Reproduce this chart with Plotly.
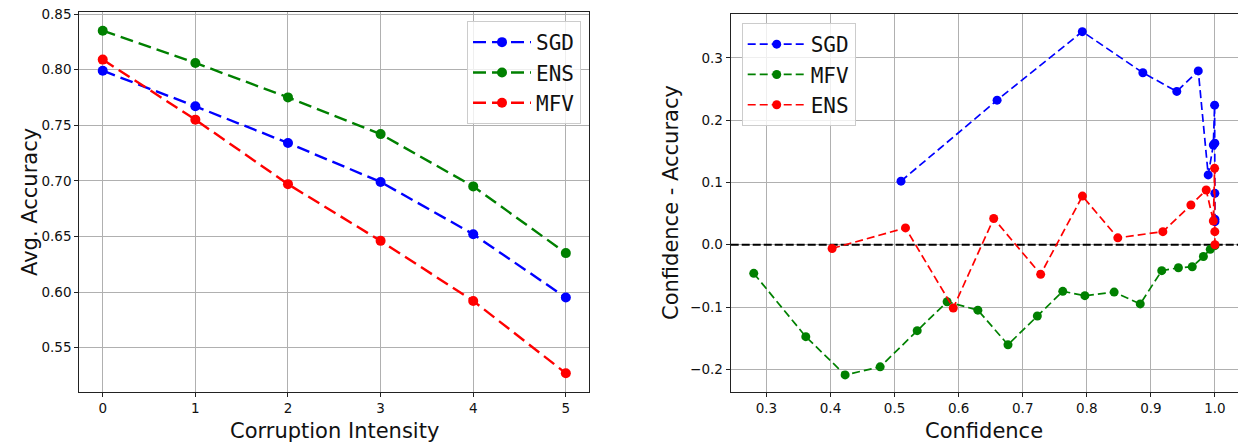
import plotly.graph_objects as go

# ---- left panel: accuracy vs corruption intensity ----
intensity = [0, 1, 2, 3, 4, 5]
acc_sgd = [0.799, 0.767, 0.734, 0.699, 0.652, 0.595]
acc_ens = [0.835, 0.806, 0.775, 0.742, 0.695, 0.635]
acc_mfv = [0.809, 0.755, 0.697, 0.646, 0.592, 0.527]

# ---- right panel: calibration gap vs confidence ----
conf_sgd = [0.510, 0.660, 0.793, 0.8875, 0.9405, 0.974, 0.9895, 0.9975, 0.9995, 0.9998, 0.9999, 0.99995, 1.0]
gap_sgd = [0.102, 0.232, 0.342, 0.276, 0.246, 0.279, 0.112, 0.160, 0.224, 0.163, 0.0825, 0.041, 0.037]

conf_mfv = [0.2802, 0.3614, 0.4228, 0.4775, 0.5353, 0.582, 0.630, 0.677, 0.7228, 0.7625,
            0.797, 0.8427, 0.8834, 0.917, 0.943, 0.9646, 0.982, 0.9927, 1.0]
gap_mfv = [-0.046, -0.1476, -0.209, -0.196, -0.138, -0.0915, -0.105, -0.1605, -0.1145, -0.0748,
           -0.0818, -0.076, -0.095, -0.0417, -0.037, -0.0353, -0.019, -0.0074, -0.0015]

conf_ens = [0.4025, 0.517, 0.5916, 0.6547, 0.728, 0.7932, 0.8484, 0.9187, 0.9625, 0.9864,
            0.9975, 0.9995, 0.9998, 1.0]
gap_ens = [-0.006, 0.027, -0.1016, 0.042, -0.0475, 0.078, 0.011, 0.021, 0.0637, 0.0878,
           0.038, 0.1226, 0.021, 0.0]

left_ticks_x = [0, 1, 2, 3, 4, 5]
left_ticks_y = [0.55, 0.60, 0.65, 0.70, 0.75, 0.80, 0.85]
right_ticks_x = [0.3, 0.4, 0.5, 0.6, 0.7, 0.8, 0.9, 1.0]
right_ticks_y = [-0.2, -0.1, 0.0, 0.1, 0.2, 0.3]

# axis limits
left_xlim = [-0.253, 5.25]
left_ylim = [0.5101, 0.8518]
right_xlim = [0.2442, 1.036]
right_ylim = [-0.2364, 0.3703]

W, H = 1238, 442
FONT = "DejaVu Sans"
MONO = "DejaVu Sans Mono"

fig = go.Figure()

# zero reference line across the right panel (drawn first so markers sit on top)
fig.add_trace(go.Scatter(
    x=right_xlim, y=[0, 0], mode="lines", showlegend=False, hoverinfo="skip",
    line=dict(color="black", width=2, dash="8px,3px"), xaxis="x2", yaxis="y2",
))


def series(x, y, name, color, xa, ya, legend, width, dash, size):
    fig.add_trace(go.Scatter(
        x=x, y=y, name=name, mode="lines+markers",
        line=dict(color=color, width=width, dash=dash),
        marker=dict(color=color, size=size, symbol="circle"),
        xaxis=xa, yaxis=ya, legend=legend,
    ))


series(intensity, acc_sgd, "SGD", "#0000ff", "x", "y", "legend", 2.4, "13px,6px", 10)
series(intensity, acc_ens, "ENS", "#008000", "x", "y", "legend", 2.4, "13px,6px", 10)
series(intensity, acc_mfv, "MFV", "#ff0000", "x", "y", "legend", 2.4, "13px,6px", 10)

series(conf_sgd, gap_sgd, "SGD", "#0000ff", "x2", "y2", "legend2", 1.7, "8px,4px", 9)
series(conf_mfv, gap_mfv, "MFV", "#008000", "x2", "y2", "legend2", 1.7, "8px,4px", 9)
series(conf_ens, gap_ens, "ENS", "#ff0000", "x2", "y2", "legend2", 1.7, "8px,4px", 9)

axis_common = dict(
    showgrid=True, gridcolor="#b0b0b0", gridwidth=0.8,
    showline=True, linecolor="#222222", linewidth=1.2,
    ticks="outside", ticklen=4, tickwidth=1, tickcolor="#222222",
    tickfont=dict(family=FONT, size=13.5, color="#111111"),
    zeroline=False, automargin=False,
)

y_dom = [1 - 392 / H, 1 - 12 / H]
y2_dom = [1 - 392 / H, 1 - 14 / H]

legend_common = dict(
    bgcolor="rgba(255,255,255,0.8)", bordercolor="#cccccc", borderwidth=1,
    font=dict(family=MONO, size=21, color="#111111"),
    itemwidth=58, tracegroupgap=0,
)

fig.update_layout(
    width=W, height=H, margin=dict(l=0, r=0, t=0, b=0, pad=0, autoexpand=False),
    paper_bgcolor="white", plot_bgcolor="white",
    font=dict(family=FONT, color="#111111"),
    xaxis=dict(domain=[79.3 / W, 589 / W], range=left_xlim,
               tickvals=left_ticks_x, ticktext=[str(v) for v in left_ticks_x],
               mirror=True, anchor="y", **axis_common),
    yaxis=dict(domain=y_dom, range=left_ylim,
               tickvals=left_ticks_y, ticktext=[f"{v:.2f}" for v in left_ticks_y],
               mirror=True, anchor="x", **axis_common),
    xaxis2=dict(domain=[730.7 / W, 1.0], range=right_xlim,
                tickvals=right_ticks_x, ticktext=[f"{v:.1f}" for v in right_ticks_x],
                mirror=True, anchor="y2", **axis_common),
    yaxis2=dict(domain=y2_dom, range=right_ylim,
                tickvals=right_ticks_y,
                ticktext=[f"{v:.1f}".replace("-", "\u2212") for v in right_ticks_y],
                mirror=False, anchor="x2", **axis_common),
    legend=dict(x=581 / W, y=1 - 21 / H, xanchor="right", yanchor="top", **legend_common),
    legend2=dict(x=741.7 / W, y=1 - 23 / H, xanchor="left", yanchor="top", **legend_common),
    showlegend=True,
)

# axis titles
titles = [
    dict(text="Corruption Intensity", x=334 / W, y=1 - 431 / H, textangle=0),
    dict(text="Avg. Accuracy", x=30 / W, y=1 - 202 / H, textangle=-90),
    dict(text="Confidence", x=984 / W, y=1 - 431 / H, textangle=0),
    dict(text="Confidence - Accuracy", x=671 / W, y=1 - 203 / H, textangle=-90),
]
for t in titles:
    fig.add_annotation(text=t["text"], x=t["x"], y=t["y"], xref="paper", yref="paper",
                       xanchor="center", yanchor="middle", textangle=t["textangle"],
                       showarrow=False, font=dict(family=FONT, size=21, color="#111111"))

fig.write_html("out.html")
